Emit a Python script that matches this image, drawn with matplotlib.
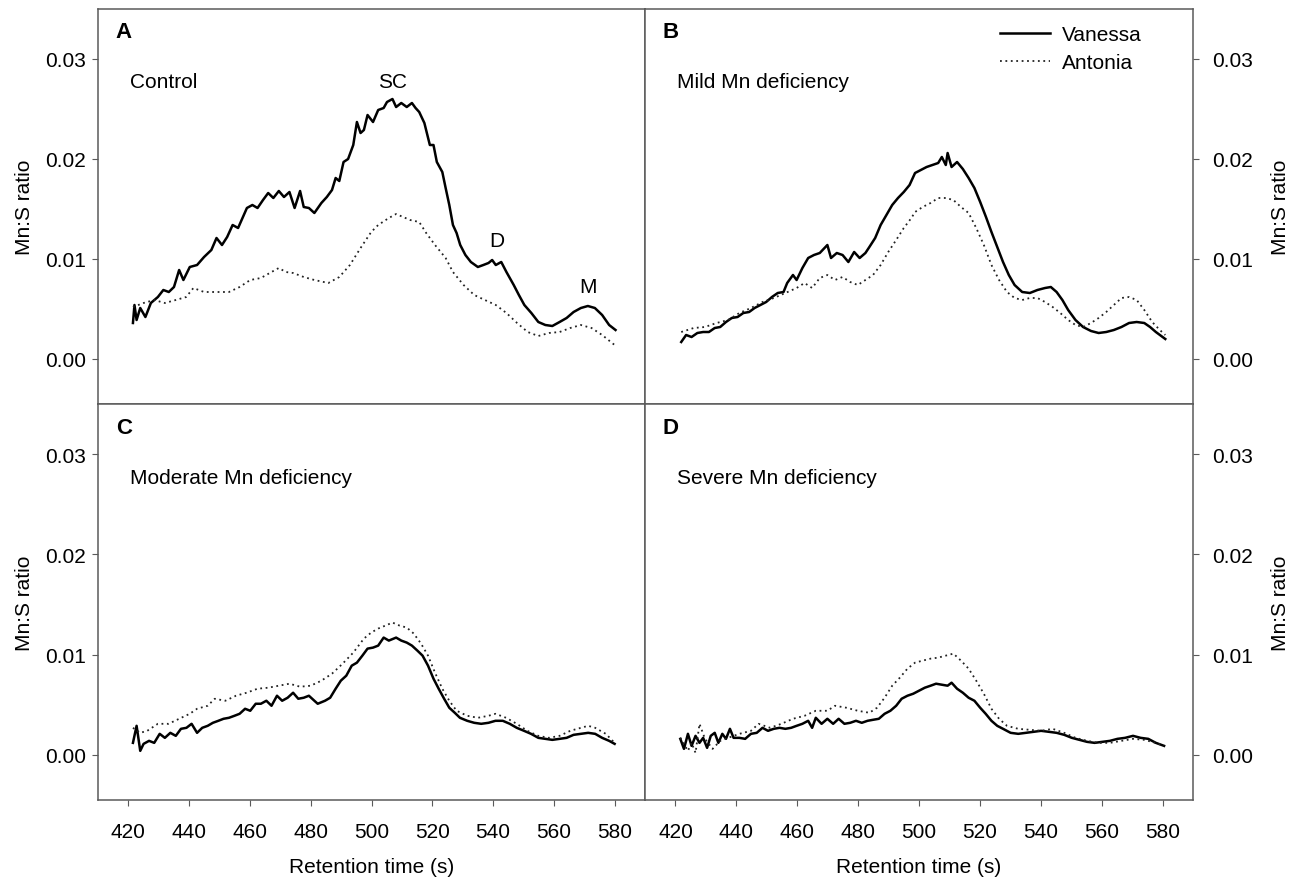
import matplotlib.pyplot as plt
from matplotlib.ticker import FormatStrFormatter

plt.rcParams['font.family'] = ['Liberation Sans', 'DejaVu Sans']

# Datos (tiempo de retención en s, relación Mn:S)
# Panel A - Control
t_a_van = [421.5, 422.0, 422.7, 423.9, 425.6, 427.4, 429.7, 431.5, 433.3, 435.0, 436.7, 438.1, 440.2,
           442.6, 444.9, 447.3, 449.0, 450.8, 452.5, 454.3, 456.1, 459.0, 460.8, 462.5, 464.3, 466.0,
           467.7, 469.5, 471.2, 473.0, 474.7, 476.5, 477.7, 479.4, 481.2, 483.5, 485.3, 487.0, 488.2,
           489.4, 490.8, 492.3, 494.0, 495.2, 496.4, 497.5, 498.7, 500.5, 502.2, 504.0, 505.1, 506.9,
           508.1, 509.8, 511.6, 513.3, 514.5, 515.7, 517.4, 519.2, 520.4, 521.5, 523.3, 524.4, 525.6,
           526.8, 528.0, 529.2, 530.9, 532.7, 535.0, 536.8, 538.5, 539.7, 540.9, 542.7, 544.4, 546.8,
           548.5, 550.3, 552.6, 554.9, 557.2, 559.5, 561.9, 564.2, 566.5, 568.9, 571.2, 573.5, 575.9,
           578.2, 580.3]
v_a_van = [0.0036, 0.0054, 0.0039, 0.0051, 0.0042, 0.0056, 0.0062, 0.0069, 0.0067, 0.0072, 0.0089, 0.0079, 0.0092,
           0.0094, 0.0102, 0.0109, 0.0121, 0.0114, 0.0122, 0.0134, 0.0131, 0.0151, 0.0154, 0.0151, 0.0159, 0.0166,
           0.0161, 0.0168, 0.0162, 0.0167, 0.0151, 0.0168, 0.0152, 0.0151, 0.0146, 0.0156, 0.0162, 0.0169, 0.0181,
           0.0178, 0.0197, 0.0200, 0.0214, 0.0237, 0.0226, 0.0229, 0.0244, 0.0237, 0.0249, 0.0251, 0.0257, 0.0260,
           0.0252, 0.0256, 0.0252, 0.0256, 0.0251, 0.0247, 0.0236, 0.0214, 0.0214, 0.0197, 0.0187, 0.0171, 0.0154,
           0.0134, 0.0126, 0.0114, 0.0104, 0.0097, 0.0092, 0.0094, 0.0096, 0.0099, 0.0094, 0.0097, 0.0087, 0.0074,
           0.0064, 0.0054, 0.0046, 0.0037, 0.0034, 0.0033, 0.0037, 0.0041, 0.0047, 0.0051, 0.0053, 0.0051, 0.0044,
           0.0034, 0.0029]
t_a_ant = [421.5, 425.0, 428.5, 432.0, 435.6, 439.0, 441.4, 444.9, 449.6, 453.1, 456.6, 460.1, 463.6, 467.1,
           469.5, 471.8, 474.2, 477.7, 481.2, 485.8, 489.4, 492.9, 496.4, 499.9, 502.2, 505.7, 508.1, 510.4,
           512.7, 515.7, 518.0, 520.9, 524.4, 526.8, 530.3, 533.8, 537.3, 540.9, 544.4, 547.9, 551.4, 554.9,
           558.4, 561.9, 565.4, 568.9, 572.4, 575.9, 580.0]
v_a_ant = [0.0052, 0.0056, 0.0059, 0.0056, 0.0059, 0.0062, 0.0071, 0.0067, 0.0067, 0.0067, 0.0072, 0.0079, 0.0081, 0.0087,
           0.0091, 0.0087, 0.0086, 0.0082, 0.0079, 0.0076, 0.0082, 0.0094, 0.0111, 0.0127, 0.0134, 0.0141, 0.0145, 0.0142,
           0.0139, 0.0137, 0.0126, 0.0114, 0.0101, 0.0087, 0.0074, 0.0064, 0.0059, 0.0054, 0.0046, 0.0036, 0.0027, 0.0023,
           0.0026, 0.0027, 0.0031, 0.0034, 0.0031, 0.0024, 0.0014]

# Panel B - deficiencia leve
t_b_van = [421.9, 423.5, 425.3, 427.2, 429.1, 431.0, 432.9, 434.7, 436.6, 438.5, 440.4, 442.3, 444.2, 446.0,
           447.9, 449.8, 451.7, 453.6, 455.5, 456.7, 458.6, 459.8, 461.7, 463.6, 465.5, 467.4, 469.9, 471.1,
           473.0, 474.9, 476.8, 478.7, 480.5, 482.4, 483.7, 485.6, 487.4, 489.3, 491.2, 493.1, 495.0, 496.9,
           498.7, 500.6, 502.5, 504.4, 506.3, 507.5, 508.8, 509.4, 510.7, 512.5, 514.4, 516.3, 518.2, 520.1,
           522.0, 523.8, 525.7, 527.6, 529.5, 531.4, 533.9, 536.4, 538.9, 541.4, 543.3, 545.2, 547.1, 549.0,
           551.4, 553.9, 556.5, 559.0, 561.5, 564.0, 566.5, 569.0, 571.5, 574.0, 575.9, 577.8, 580.9]
v_b_van = [0.0017, 0.0024, 0.0022, 0.0026, 0.0027, 0.0027, 0.0031, 0.0032, 0.0037, 0.0041, 0.0042, 0.0046, 0.0047, 0.0051,
           0.0054, 0.0057, 0.0062, 0.0066, 0.0067, 0.0076, 0.0084, 0.0079, 0.0091, 0.0101, 0.0104, 0.0106, 0.0114, 0.0101,
           0.0106, 0.0104, 0.0097, 0.0107, 0.0101, 0.0106, 0.0112, 0.0121, 0.0134, 0.0144, 0.0154, 0.0161, 0.0167, 0.0174,
           0.0186, 0.0189, 0.0192, 0.0194, 0.0196, 0.0202, 0.0194, 0.0206, 0.0192, 0.0197, 0.0190, 0.0181, 0.0171, 0.0157,
           0.0142, 0.0127, 0.0112, 0.0097, 0.0084, 0.0074, 0.0067, 0.0066, 0.0069, 0.0071, 0.0072, 0.0067, 0.0059, 0.0049,
           0.0039, 0.0032, 0.0028, 0.0026, 0.0027, 0.0029, 0.0032, 0.0036, 0.0037, 0.0036, 0.0032, 0.0027, 0.0020]
t_b_ant = [421.9, 426.0, 429.7, 433.5, 437.3, 441.0, 444.8, 448.6, 452.3, 456.1, 459.8, 462.4, 464.9, 467.4,
           469.9, 472.4, 474.9, 477.4, 479.9, 482.4, 484.9, 487.4, 489.9, 492.5, 495.0, 497.5, 498.7, 501.2,
           503.8, 506.3, 508.8, 511.3, 513.8, 516.3, 518.8, 521.3, 523.8, 526.3, 528.9, 531.4, 533.9, 536.4,
           538.9, 541.4, 543.9, 546.4, 549.0, 551.4, 553.9, 556.5, 559.0, 561.5, 564.0, 566.5, 569.0, 571.5,
           574.0, 576.6, 579.1, 580.9]
v_b_ant = [0.0027, 0.0031, 0.0032, 0.0036, 0.0039, 0.0046, 0.0051, 0.0057, 0.0061, 0.0066, 0.0071, 0.0076, 0.0071, 0.0081,
           0.0084, 0.0079, 0.0082, 0.0077, 0.0074, 0.0079, 0.0084, 0.0094, 0.0107, 0.0119, 0.0131, 0.0141, 0.0147, 0.0152,
           0.0156, 0.0161, 0.0161, 0.0159, 0.0152, 0.0146, 0.0131, 0.0114, 0.0094, 0.0079, 0.0067, 0.0061, 0.0059, 0.0061,
           0.0061, 0.0057, 0.0052, 0.0046, 0.0039, 0.0034, 0.0032, 0.0036, 0.0041, 0.0047, 0.0054, 0.0061, 0.0062, 0.0059,
           0.0049, 0.0037, 0.0029, 0.0024]

# Panel C - deficiencia moderada
t_c_van = [421.5, 422.7, 423.9, 425.0, 426.8, 428.5, 430.3, 432.0, 433.8, 435.6, 437.3, 439.1, 440.8, 442.6,
           444.3, 446.1, 447.8, 449.6, 451.3, 453.1, 454.9, 456.6, 458.4, 460.1, 461.9, 463.6, 465.4, 467.1,
           468.9, 470.6, 472.4, 474.2, 475.9, 477.7, 479.4, 481.2, 482.3, 484.7, 486.4, 488.2, 489.9, 491.7,
           493.5, 495.2, 497.0, 498.7, 500.5, 502.2, 504.0, 505.7, 508.1, 509.8, 511.6, 513.3, 515.1, 516.8,
           518.6, 520.4, 522.1, 523.9, 525.6, 527.4, 529.1, 531.5, 533.8, 536.1, 538.5, 540.8, 543.2, 545.5,
           547.8, 550.2, 552.5, 554.9, 557.2, 559.5, 561.9, 564.2, 566.5, 568.9, 571.3, 573.6, 575.9, 578.2,
           580.0]
v_c_van = [0.0012, 0.0029, 0.0004, 0.0011, 0.0014, 0.0012, 0.0021, 0.0017, 0.0022, 0.0019, 0.0026, 0.0027, 0.0031, 0.0022,
           0.0027, 0.0029, 0.0032, 0.0034, 0.0036, 0.0037, 0.0039, 0.0041, 0.0046, 0.0044, 0.0051, 0.0051, 0.0054, 0.0049,
           0.0059, 0.0054, 0.0057, 0.0062, 0.0056, 0.0057, 0.0059, 0.0054, 0.0051, 0.0054, 0.0057, 0.0066, 0.0074, 0.0079,
           0.0089, 0.0092, 0.0099, 0.0106, 0.0107, 0.0109, 0.0117, 0.0114, 0.0117, 0.0114, 0.0112, 0.0109, 0.0104, 0.0099,
           0.0089, 0.0076, 0.0066, 0.0056, 0.0047, 0.0042, 0.0037, 0.0034, 0.0032, 0.0031, 0.0032, 0.0034, 0.0034, 0.0031,
           0.0027, 0.0024, 0.0021, 0.0017, 0.0016, 0.0015, 0.0016, 0.0017, 0.0020, 0.0021, 0.0022, 0.0021, 0.0017, 0.0014,
           0.0011]
t_c_ant = [421.5, 423.9, 426.2, 429.7, 433.2, 436.7, 440.2, 442.6, 446.1, 448.4, 451.9, 455.4, 458.9, 462.5,
           466.0, 469.5, 473.0, 476.5, 480.0, 483.5, 487.0, 490.5, 494.0, 497.5, 499.9, 502.2, 504.6, 506.9,
           509.2, 511.6, 513.9, 516.3, 518.6, 520.9, 523.3, 525.6, 528.0, 531.5, 535.0, 538.5, 540.8, 544.3,
           547.8, 551.3, 554.9, 558.4, 561.9, 565.4, 568.9, 571.3, 573.6, 577.1, 580.0]
v_c_ant = [0.0027, 0.0022, 0.0024, 0.0031, 0.0031, 0.0036, 0.0041, 0.0046, 0.0049, 0.0056, 0.0054, 0.0059, 0.0062, 0.0066,
           0.0067, 0.0069, 0.0071, 0.0068, 0.0069, 0.0074, 0.0081, 0.0091, 0.0102, 0.0116, 0.0122, 0.0126, 0.0129, 0.0132,
           0.0129, 0.0127, 0.0121, 0.0111, 0.0099, 0.0082, 0.0066, 0.0054, 0.0044, 0.0039, 0.0037, 0.0039, 0.0041, 0.0037,
           0.0031, 0.0024, 0.0019, 0.0017, 0.0019, 0.0024, 0.0027, 0.0029, 0.0027, 0.0021, 0.0012]

# Panel D - deficiencia severa
t_d_van = [421.6, 422.8, 424.1, 425.3, 426.6, 427.9, 429.1, 430.4, 431.6, 432.9, 434.1, 435.4, 436.6, 437.9,
           439.1, 441.0, 442.9, 444.8, 446.7, 448.6, 450.4, 452.3, 454.2, 456.1, 458.0, 459.8, 461.7, 463.6,
           464.9, 466.1, 468.0, 469.9, 471.8, 473.6, 475.5, 477.4, 479.3, 481.2, 483.1, 484.9, 486.8, 488.7,
           490.6, 492.5, 494.3, 496.2, 498.1, 500.0, 501.9, 503.8, 505.6, 507.5, 509.4, 510.7, 512.5, 514.4,
           516.3, 518.2, 520.1, 521.9, 523.8, 525.7, 527.6, 530.1, 532.6, 535.1, 537.6, 540.1, 542.7, 545.2,
           547.7, 550.2, 552.7, 555.2, 557.7, 560.2, 562.7, 565.2, 567.7, 570.3, 572.8, 575.3, 577.8, 580.5]
v_d_van = [0.0016, 0.0006, 0.0021, 0.0009, 0.0019, 0.0012, 0.0017, 0.0007, 0.0019, 0.0022, 0.0012, 0.0021, 0.0016, 0.0026,
           0.0017, 0.0017, 0.0016, 0.0021, 0.0022, 0.0027, 0.0024, 0.0026, 0.0027, 0.0026, 0.0027, 0.0029, 0.0031, 0.0034,
           0.0027, 0.0037, 0.0031, 0.0036, 0.0031, 0.0036, 0.0031, 0.0032, 0.0034, 0.0032, 0.0034, 0.0035, 0.0036, 0.0041,
           0.0044, 0.0049, 0.0056, 0.0059, 0.0061, 0.0064, 0.0067, 0.0069, 0.0071, 0.0070, 0.0069, 0.0072, 0.0066, 0.0062,
           0.0057, 0.0054, 0.0047, 0.0041, 0.0034, 0.0029, 0.0026, 0.0022, 0.0021, 0.0022, 0.0023, 0.0024, 0.0023, 0.0022,
           0.0020, 0.0017, 0.0015, 0.0013, 0.0012, 0.0013, 0.0014, 0.0016, 0.0017, 0.0019, 0.0017, 0.0016, 0.0012, 0.0009]
t_d_ant = [421.6, 422.8, 424.1, 425.3, 426.6, 427.9, 429.7, 432.2, 434.7, 437.3, 441.0, 444.8, 447.3, 451.1,
           454.8, 458.6, 462.4, 466.1, 469.9, 472.4, 476.2, 479.9, 483.7, 486.2, 488.7, 491.2, 493.7, 496.2,
           498.7, 501.2, 503.8, 506.3, 508.8, 511.3, 513.8, 516.3, 518.8, 521.3, 523.8, 526.3, 528.9, 532.6,
           536.4, 540.1, 543.9, 547.7, 551.4, 555.2, 559.0, 562.7, 566.5, 570.3, 574.0, 577.8, 580.5]
v_d_ant = [0.0017, 0.0011, 0.0004, 0.0012, 0.0002, 0.0031, 0.0016, 0.0006, 0.0014, 0.0017, 0.0021, 0.0024, 0.0031, 0.0027,
           0.0031, 0.0036, 0.0039, 0.0044, 0.0044, 0.0049, 0.0047, 0.0044, 0.0042, 0.0047, 0.0057, 0.0069, 0.0077, 0.0086,
           0.0092, 0.0094, 0.0096, 0.0097, 0.0099, 0.0101, 0.0094, 0.0086, 0.0074, 0.0061, 0.0046, 0.0036, 0.0029, 0.0026,
           0.0025, 0.0024, 0.0026, 0.0022, 0.0017, 0.0014, 0.0012, 0.0012, 0.0014, 0.0016, 0.0015, 0.0012, 0.0009]

paneles = ['A', 'B', 'C', 'D']
titulos = ['Control', 'Mild Mn deficiency', 'Moderate Mn deficiency', 'Severe Mn deficiency']
series_van = [(t_a_van, v_a_van), (t_b_van, v_b_van), (t_c_van, v_c_van), (t_d_van, v_d_van)]
series_ant = [(t_a_ant, v_a_ant), (t_b_ant, v_b_ant), (t_c_ant, v_c_ant), (t_d_ant, v_d_ant)]
xticks = [420, 440, 460, 480, 500, 520, 540, 560, 580]
yticks = [0.00, 0.01, 0.02, 0.03]

fig = plt.figure(figsize=(12.91, 8.78), dpi=100)

W, H = 1291, 878
# posiciones en pixeles: izquierda, arriba, derecha, abajo
cajas = [(98, 10, 645, 405), (645, 10, 1193, 405), (98, 405, 645, 801), (645, 405, 1193, 801)]
ylim = (-0.0045, 0.035)

gris = '#5a5a5a'
fs = 15
for i in range(4):
    x0, y0, x1, y1 = cajas[i]
    ax = fig.add_axes([x0 / W, 1 - y1 / H, (x1 - x0) / W, (y1 - y0) / H])
    t, v = series_van[i]
    ax.plot(t, v, color='black', lw=1.8, label='Vanessa')
    t, v = series_ant[i]
    ax.plot(t, v, color='#222222', lw=1.3, linestyle=(0, (1, 2)), label='Antonia')

    ax.set_xlim(410, 590)
    ax.set_ylim(*ylim)
    for s in ax.spines.values():
        s.set_color(gris)
        s.set_linewidth(1.1)

    derecha = i % 2 == 1
    abajo = i >= 2
    ax.set_yticks(yticks)
    ax.yaxis.set_major_formatter(FormatStrFormatter('%.2f'))
    ax.tick_params(axis='y', direction='out', length=4, color=gris, labelsize=fs,
                   left=not derecha, labelleft=not derecha, right=derecha, labelright=derecha,
                   pad=9.5 if derecha else 4.5)
    ax.set_xticks(xticks)
    ax.tick_params(axis='x', direction='out', length=4, color=gris, labelsize=fs,
                   bottom=abajo, labelbottom=abajo, pad=12)
    if derecha:
        ax.yaxis.set_label_position('right')
        ax.set_ylabel('Mn:S ratio', fontsize=fs, labelpad=13)
    else:
        ax.set_ylabel('Mn:S ratio', fontsize=fs, labelpad=8)
    if abajo:
        ax.set_xlabel('Retention time (s)', fontsize=fs, labelpad=11.5)

    ax.text(415.8, 0.0327, paneles[i], fontsize=16, fontweight='bold', ha='left', va='center')
    ax.text(420.6, 0.0277, titulos[i], fontsize=fs, ha='left', va='center')

    if i == 0:
        ax.text(506.9, 0.0277, 'SC', fontsize=fs, ha='center', va='center')
        ax.text(541.2, 0.0118, 'D', fontsize=fs, ha='center', va='center')
        ax.text(571.4, 0.0072, 'M', fontsize=fs, ha='center', va='center')
    if i == 1:
        ax.legend(loc='upper left', bbox_to_anchor=(0.648, 0.96), frameon=False, fontsize=fs,
                  handlelength=2.4, handletextpad=0.55, labelspacing=0.44,
                  borderpad=0, borderaxespad=0)

fig.savefig('out.png', dpi=100)
